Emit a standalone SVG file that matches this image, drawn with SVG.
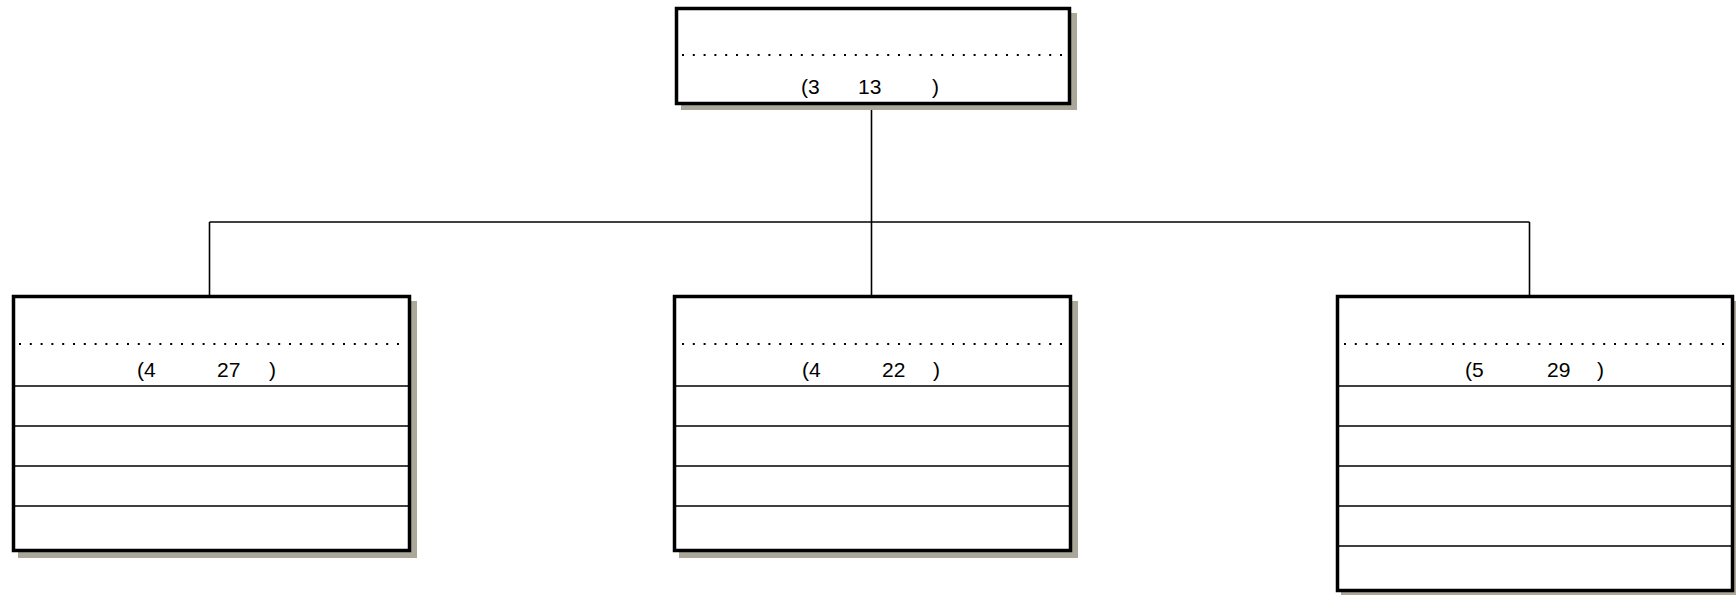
<svg xmlns="http://www.w3.org/2000/svg" width="1736" height="595" viewBox="0 0 1736 595">
<style>
.shadow{fill:#aba89a;stroke:none}
.box{fill:#ffffff;stroke:#000000;stroke-width:3.5}
.dots{stroke:#000000;stroke-width:2;stroke-dasharray:2 8.8;fill:none}
.row{stroke:#000000;stroke-width:1.6;fill:none}
.conn{stroke:#000000;stroke-width:1.6;fill:none}
text{font-family:"Liberation Sans",Arial,sans-serif;font-size:21px;fill:#000000}
</style>
<rect width="1736" height="595" fill="#ffffff"/>
<g id="connectors">
<line class="conn" x1="871.5" y1="104" x2="871.5" y2="296"/>
<line class="conn" x1="209.5" y1="222" x2="1529.5" y2="222"/>
<line class="conn" x1="209.5" y1="222" x2="209.5" y2="296"/>
<line class="conn" x1="1529.5" y1="222" x2="1529.5" y2="296"/>
</g>
<g id="node-top">
<rect class="shadow" x="681" y="13" width="396" height="97"/>
<rect class="box" x="676.5" y="8.5" width="393" height="95"/>
<line class="dots" x1="682" y1="55" x2="1063" y2="55"/>
<text y="94"><tspan x="801">(3</tspan><tspan x="858">13</tspan><tspan x="932">)</tspan></text>
</g>
<g id="node-left">
<rect class="shadow" x="18" y="301" width="399" height="257"/>
<rect class="box" x="13.5" y="296.5" width="396" height="254"/>
<line class="dots" x1="19" y1="344" x2="406" y2="344"/>
<text y="377"><tspan x="137">(4</tspan><tspan x="217">27</tspan><tspan x="269">)</tspan></text>
<line class="row" x1="15" y1="386" x2="408" y2="386"/>
<line class="row" x1="15" y1="426" x2="408" y2="426"/>
<line class="row" x1="15" y1="466" x2="408" y2="466"/>
<line class="row" x1="15" y1="506" x2="408" y2="506"/>
</g>
<g id="node-middle">
<rect class="shadow" x="679" y="301" width="399" height="257"/>
<rect class="box" x="674.5" y="296.5" width="396" height="254"/>
<line class="dots" x1="682" y1="344" x2="1067" y2="344"/>
<text y="377"><tspan x="802">(4</tspan><tspan x="882">22</tspan><tspan x="933">)</tspan></text>
<line class="row" x1="676" y1="386" x2="1069" y2="386"/>
<line class="row" x1="676" y1="426" x2="1069" y2="426"/>
<line class="row" x1="676" y1="466" x2="1069" y2="466"/>
<line class="row" x1="676" y1="506" x2="1069" y2="506"/>
</g>
<g id="node-right">
<rect class="shadow" x="1341" y="301" width="399" height="297"/>
<rect class="box" x="1337.5" y="296.5" width="395" height="294"/>
<line class="dots" x1="1344" y1="344" x2="1729" y2="344"/>
<text y="377"><tspan x="1465">(5</tspan><tspan x="1547">29</tspan><tspan x="1597">)</tspan></text>
<line class="row" x1="1339" y1="386" x2="1731" y2="386"/>
<line class="row" x1="1339" y1="426" x2="1731" y2="426"/>
<line class="row" x1="1339" y1="466" x2="1731" y2="466"/>
<line class="row" x1="1339" y1="506" x2="1731" y2="506"/>
<line class="row" x1="1339" y1="546" x2="1731" y2="546"/>
</g>
</svg>
